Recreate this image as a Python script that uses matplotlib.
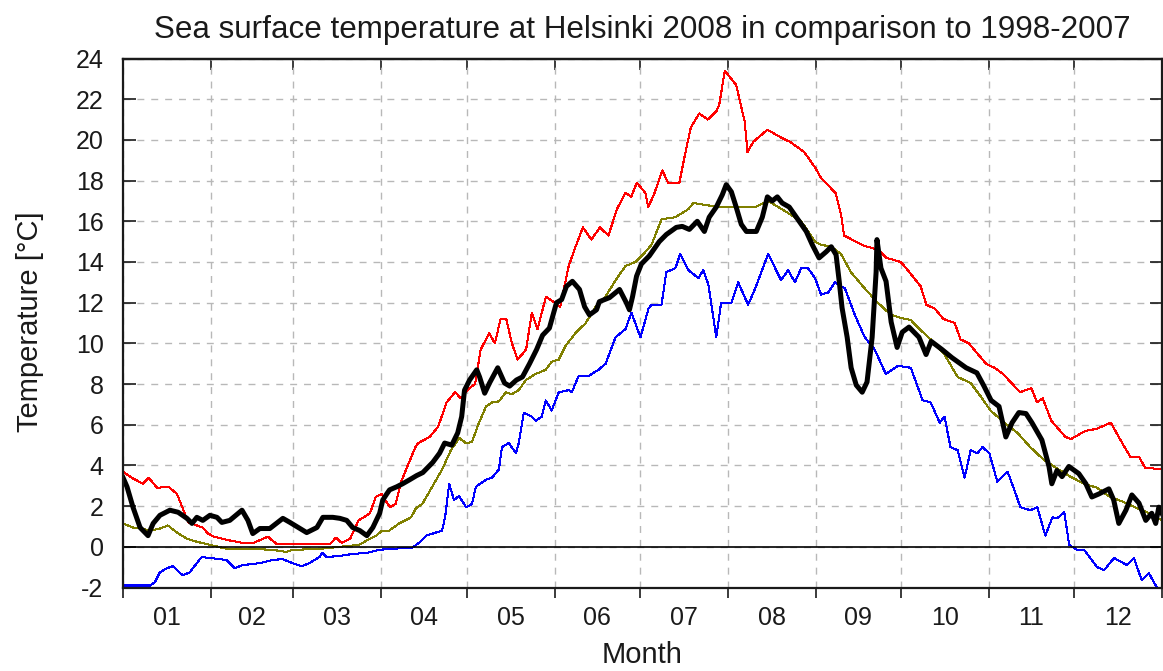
import matplotlib
matplotlib.use("Agg")
import matplotlib.pyplot as plt

plt.rcParams["font.family"] = ["Liberation Sans", "DejaVu Sans"]
plt.rcParams["axes.unicode_minus"] = False

# month boundaries (2008, leap year) and labels
month_starts = [0, 31, 60, 91, 121, 152, 182, 213, 244, 274, 305, 335, 366]
month_labels = ["01", "02", "03", "04", "05", "06", "07", "08", "09", "10", "11", "12"]

# maximum 1998-2007 (red)
max_days = [0, 3, 7, 9, 12, 16, 19, 21, 23, 26, 28, 30, 32, 38, 42, 46, 51, 54, 63, 73,
            75, 77, 80, 83, 87, 89, 91, 94, 96, 98, 100, 103, 104, 108, 111, 114, 117,
            119, 122, 124, 126, 129, 131, 133, 135, 137, 139, 142, 144, 146, 149, 152,
            154, 157, 159, 162, 165, 168, 171, 174, 177, 179, 181, 184, 185, 187, 190,
            192, 196, 198, 200, 203, 206, 209, 210, 212, 216, 219, 220, 222, 227, 232,
            235, 240, 244, 246, 251, 253, 254, 261, 266, 269, 274, 277, 281, 283, 286,
            289, 293, 295, 298, 304, 307, 310, 316, 320, 322, 324, 327, 332, 334, 339,
            343, 348, 352, 355, 358, 360, 366]
max_vals = [3.7, 3.4, 3.1, 3.4, 2.9, 2.95, 2.6, 1.9, 1.2, 1.05, 0.95, 0.65, 0.5, 0.3, 0.2,
            0.2, 0.5, 0.15, 0.15, 0.15, 0.45, 0.2, 0.4, 1.3, 1.65, 2.45, 2.6, 1.95, 2.1,
            3.2, 3.9, 4.9, 5.1, 5.4, 5.9, 7.1, 7.6, 7.3, 7.8, 8.0, 9.7, 10.5, 10.0, 11.2,
            11.2, 10.0, 9.2, 9.7, 11.5, 10.7, 12.3, 12.0, 11.8, 13.8, 14.6, 15.7, 15.1,
            15.7, 15.3, 16.6, 17.4, 17.2, 17.9, 17.4, 16.7, 17.3, 18.5, 17.9, 17.9, 19.3,
            20.6, 21.3, 21.0, 21.4, 21.7, 23.4, 22.7, 20.9, 19.4, 19.9, 20.5, 20.1, 19.9,
            19.4, 18.6, 18.1, 17.4, 16.3, 15.3, 14.8, 14.6, 14.2, 14.0, 13.5, 12.8, 11.9,
            11.7, 11.2, 11.0, 10.2, 10.0, 9.0, 8.8, 8.5, 7.6, 7.8, 7.1, 7.3, 6.2, 5.4,
            5.3, 5.7, 5.8, 6.1, 5.1, 4.4, 4.4, 3.9, 3.8]

# minimum 1998-2007 (blue)
min_days = [0, 9.5, 11.2, 13, 15.5, 17.6, 21, 23.5, 27.7, 30.6, 34, 36.5, 39.3, 42.1, 48.1,
            52.7, 56.2, 59.7, 62.9, 65.7, 69.2, 70.2, 71.7, 76.2, 80.8, 85.7, 90.3, 93.8,
            101.9, 104.3, 106.8, 112.4, 113.5, 114.9, 116.6, 118.4, 120.8, 122.9, 124.3,
            127.9, 130, 132.4, 133.5, 135.9, 138.4, 139.4, 141.2, 144, 145.4, 147.5, 148.9,
            151, 153.5, 157, 158.1, 160.5, 164, 167.5, 170, 173.5, 177, 179.1, 182.3, 185.1,
            186.2, 189.7, 191.4, 194.6, 196.3, 199.2, 202.7, 204.4, 206.2, 207.9, 209,
            210.7, 214.3, 216.7, 220.2, 222.7, 227.3, 229.7, 231.8, 234.3, 236.7, 238.9,
            241.3, 243.8, 245.9, 248.4, 250.8, 254.3, 257.8, 261.3, 264.8, 268.7, 273,
            277.5, 281.7, 284.5, 287.7, 289.4, 291.5, 294, 296.5, 298.6, 301, 302.8, 305.2,
            308, 311.6, 314, 316.1, 319.6, 322.1, 324.9, 327.4, 329.1, 331.6, 333.3, 336.1,
            338.6, 343.2, 345.6, 349.1, 353.7, 356.1, 358.9, 361.4, 364.2, 366]
min_vals = [-1.9, -1.9, -1.75, -1.25, -1.05, -0.95, -1.4, -1.25, -0.5, -0.55, -0.6, -0.65,
            -1.05, -0.9, -0.8, -0.65, -0.6, -0.8, -0.95, -0.8, -0.5, -0.3, -0.5, -0.45,
            -0.35, -0.3, -0.15, -0.1, -0.05, 0.2, 0.55, 0.8, 1.5, 3.1, 2.3, 2.5, 1.95, 2.1,
            2.95, 3.3, 3.4, 3.8, 4.9, 5.1, 4.6, 5.1, 6.6, 6.4, 6.2, 6.4, 7.2, 6.7, 7.6, 7.7,
            7.6, 8.4, 8.4, 8.7, 9.0, 10.3, 10.7, 11.5, 10.3, 11.7, 11.9, 11.9, 13.5, 13.7,
            14.4, 13.6, 13.2, 13.6, 12.9, 11.3, 10.3, 12.0, 12.0, 13.0, 11.9, 12.7, 14.4,
            13.7, 13.1, 13.6, 13.0, 13.7, 13.7, 13.2, 12.4, 12.5, 13.0, 12.7, 11.4, 10.3,
            9.7, 8.5, 8.9, 8.8, 7.2, 7.1, 6.1, 6.4, 4.9, 4.75, 3.4, 4.75, 4.6, 4.9, 4.6,
            3.2, 3.7, 2.8, 1.95, 1.8, 1.95, 0.55, 1.45, 1.4, 1.7, 0.1, -0.15, -0.15, -1.0,
            -1.15, -0.55, -0.9, -0.55, -1.65, -1.3, -2.0, -2.0]

# mean 1998-2007 (olive)
mean_days = [0, 3.5, 6, 9.5, 13, 15.8, 19, 22.5, 26, 30.6, 36.5, 45.7, 52.7, 57.6, 59.7, 69.2,
             76.2, 83.2, 85.7, 89.2, 91.3, 93.8, 97.3, 101.5, 103.2, 105.4, 108.9, 112.4,
             115.5, 118.4, 120.8, 122.9, 125.4, 127.9, 130, 132.4, 134.9, 137, 139.4, 141.9,
             145.4, 148.9, 151, 153.5, 156, 159.4, 163, 166.5, 170, 173.5, 177, 180.5,
             183.4, 186.2, 189.7, 194.6, 199.2, 200.9, 205.1, 210.7, 216.7, 222.7, 227.3,
             233.2, 238.9, 243.8, 245.9, 249.4, 252.9, 256.4, 261.3, 265.9, 270.5, 274,
             277.5, 281, 284.5, 289.4, 294, 298.6, 302.1, 305.6, 310.5, 315.1, 319.6, 324.6,
             329.1, 333.7, 338.6, 343.2, 347.7, 352.6, 357.1, 361.7, 366]
mean_vals = [1.15, 0.95, 0.9, 0.8, 0.9, 1.05, 0.7, 0.4, 0.25, 0.1, -0.1, -0.1, -0.15, -0.25,
             -0.15, -0.1, 0.0, 0.1, 0.3, 0.55, 0.8, 0.8, 1.15, 1.45, 1.9, 2.1, 2.95, 3.8,
             4.75, 5.35, 5.1, 5.15, 6.1, 6.9, 7.1, 7.15, 7.6, 7.5, 7.7, 8.2, 8.5, 8.7, 9.1,
             9.2, 9.9, 10.5, 11.0, 11.8, 12.3, 13.1, 13.8, 14.0, 14.4, 14.85, 16.1, 16.2,
             16.6, 16.9, 16.8, 16.7, 16.7, 16.7, 17.0, 16.5, 16.0, 15.0, 14.85, 14.75, 14.4,
             13.5, 12.7, 12.0, 11.4, 11.25, 11.15, 10.65, 10.2, 9.45, 8.35, 8.05, 7.4, 6.7,
             6.1, 5.6, 4.9, 4.25, 3.85, 3.45, 3.1, 2.9, 2.45, 2.2, 1.9, 1.65, 1.3]

# year 2008 (black)
y2008_days = [0, 1.4, 3.5, 6, 8.8, 10.6, 13, 16.5, 19.4, 22.5, 24.3, 26, 28.1, 30.6, 33.1,
              34.8, 37.6, 41.9, 44, 45.7, 48.2, 51.7, 56.3, 58.8, 62.3, 64.7, 68.3, 70.4,
              73.9, 76.4, 78.8, 80.9, 83.4, 85.9, 88, 90.4, 91.5, 92.9, 93.9, 96.4, 98.5,
              101, 103.4, 105.6, 109.1, 111.5, 113.3, 115.8, 117.9, 119.3, 120.3, 122.1,
              124.6, 125.6, 127.4, 129.1, 132, 134.4, 136.2, 138.6, 140.7, 143.2, 145.7,
              147.8, 150.2, 152.7, 154.5, 156.2, 158.3, 160.8, 162.6, 164.3, 166.8, 167.8,
              171.4, 174.9, 177.3, 178.4, 179.5, 180.9, 182.6, 185.4, 188.9, 191.4, 194.9,
              197, 199.5, 202.3, 204.8, 206.5, 209, 211.1, 212.5, 214.3, 216, 217.8, 219.6,
              223.1, 225.2, 227, 228.7, 230.5, 232.2, 234.7, 237.2, 240.7, 242.8, 245.2,
              247.7, 249.5, 251.2, 252.3, 253.3, 255.1, 256.5, 258.3, 260.4, 262.1, 263.9,
              265.3, 265.6, 267, 268.8, 270.6, 272.7, 274.5, 276.9, 280.4, 282.9, 284.7,
              288.5, 292, 297, 300.8, 303.3, 305.8, 308.6, 311, 313.2, 315.6, 318.1, 320.2,
              323.7, 326.2, 327.2, 329, 330.8, 333.2, 336.7, 339.2, 341.3, 343.8, 347.3, 349,
              350.8, 353.3, 355.4, 357.9, 360.3, 362.4, 363.8, 364.9, 366]
y2008_vals = [3.4, 2.95, 1.95, 0.95, 0.55, 1.15, 1.55, 1.8, 1.7, 1.4, 1.15, 1.45, 1.3, 1.55,
              1.45, 1.2, 1.3, 1.8, 1.3, 0.65, 0.9, 0.9, 1.4, 1.2, 0.9, 0.7, 0.95, 1.45, 1.45,
              1.4, 1.3, 0.95, 0.8, 0.55, 0.95, 1.65, 2.3, 2.6, 2.8, 2.95, 3.1, 3.3, 3.5, 3.65,
              4.15, 4.6, 5.1, 5.0, 5.6, 6.4, 7.7, 8.2, 8.7, 8.35, 7.55, 8.05, 8.8, 8.05, 7.9,
              8.2, 8.35, 9.0, 9.7, 10.4, 10.75, 12.0, 12.15, 12.8, 13.05, 12.65, 11.8, 11.4,
              11.65, 12.05, 12.25, 12.65, 12.0, 11.65, 12.3, 13.3, 13.9, 14.3, 15.0, 15.35,
              15.7, 15.75, 15.6, 16.0, 15.5, 16.2, 16.7, 17.3, 17.8, 17.45, 16.7, 15.85, 15.5,
              15.5, 16.2, 17.2, 17.0, 17.2, 16.9, 16.7, 16.2, 15.5, 14.85, 14.2, 14.5, 14.75,
              14.35, 13.05, 11.75, 10.3, 8.8, 7.95, 7.6, 8.1, 10.3, 13.5, 15.1, 13.7, 13.05,
              11.05, 9.8, 10.55, 10.8, 10.3, 9.45, 10.1, 9.7, 9.3, 8.8, 8.55, 7.9, 7.2, 6.9,
              5.4, 6.1, 6.6, 6.55, 6.1, 5.25, 3.95, 3.1, 3.75, 3.45, 3.95, 3.6, 3.1, 2.45,
              2.6, 2.85, 2.3, 1.15, 1.8, 2.55, 2.15, 1.3, 1.65, 1.15, 1.95, 1.65]

TEXT_COL = "#1a1a1a"
GRID_COL = "#b8b8b8"

fig = plt.figure(figsize=(11.63, 6.71), dpi=100)
ax = fig.add_axes([0.1058, 0.1244, 0.8933, 0.7884])

ax.plot(max_days, max_vals, color="#ff0000", linewidth=0.75, antialiased=False)
ax.plot(min_days, min_vals, color="#0000ff", linewidth=0.75, antialiased=False)
ax.plot(mean_days, mean_vals, color="#808000", linewidth=0.75, antialiased=False)
ax.axhline(0, color="black", linewidth=1.2)
ax.plot(y2008_days, y2008_vals, color="black", linewidth=3.6)

ax.set_xlim(0, 366)
ax.set_ylim(-2, 24)
ax.set_yticks(range(-2, 25, 2))

# month boundaries as major ticks (grid), labels at mid-month as minor ticks
ax.set_xticks(month_starts)
ax.set_xticklabels([])
mids = [(a + b) / 2 for a, b in zip(month_starts[:-1], month_starts[1:])]
ax.set_xticks(mids, minor=True)
ax.set_xticklabels(month_labels, minor=True)

ax.tick_params(axis="x", which="major", direction="out", length=7, width=1.2,
               colors=TEXT_COL)
ax.tick_params(axis="x", which="minor", length=0, pad=13, labelsize=18,
               labelcolor=TEXT_COL)
ax.tick_params(axis="y", which="major", direction="in", length=9, width=1.2,
               left=True, right=True, pad=14, labelsize=18, colors=TEXT_COL)

top = ax.secondary_xaxis("top")
top.set_xticks(month_starts)
top.tick_params(direction="in", length=8, width=1.2, labeltop=False, colors=TEXT_COL)
top.spines["top"].set_linewidth(1.6)

ax.grid(True, which="major", color=GRID_COL, linestyle=(0, (5, 5)), linewidth=1.0)
ax.set_axisbelow(True)
for spine in ax.spines.values():
    spine.set_linewidth(1.6)
    spine.set_edgecolor(TEXT_COL)

ax.set_title("Sea surface temperature at Helsinki 2008 in comparison to 1998-2007",
             fontsize=22.6, color=TEXT_COL, pad=15)
fig.text(0.552, 0.024, "Month", fontsize=21, color=TEXT_COL, ha="center", va="center")
fig.text(0.026, 0.52, "Temperature [°C]", fontsize=21, color=TEXT_COL,
         ha="center", va="center", rotation=90)

fig.savefig("out.png", dpi=100)
